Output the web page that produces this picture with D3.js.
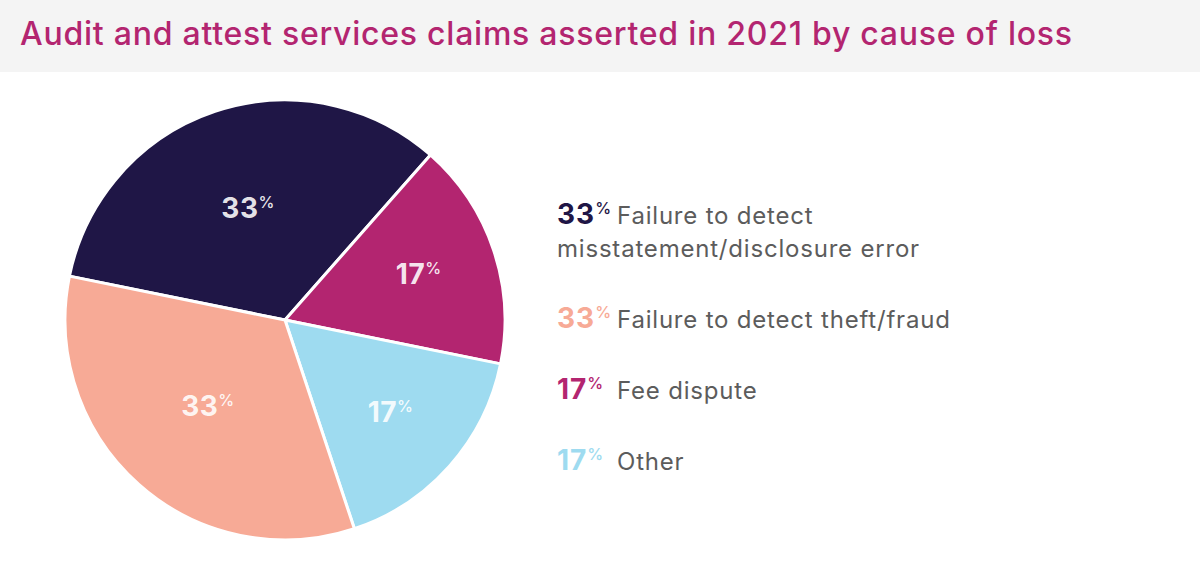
<!DOCTYPE html>
<html>
<head>
<meta charset="utf-8">
<script src="https://cdn.jsdelivr.net/npm/d3@7"></script>
<style>
  html, body { margin: 0; padding: 0; background: #fff; }
  svg { display: block; }
</style>
</head>
<body>
<svg id="chart" width="1200" height="566"></svg>
<script>
// ---- data ----
const title = "Audit and attest services claims asserted in 2021 by cause of loss";
const categories = ["Failure to detect misstatement/disclosure error", "Fee dispute", "Other", "Failure to detect theft/fraud"];
const values = [33.3, 16.7, 16.7, 33.3];
const colors = ["#1f1646", "#b32570", "#9edbf0", "#f7aa96"];
const legendOrder = ["Failure to detect misstatement/disclosure error", "Failure to detect theft/fraud", "Fee dispute", "Other"];
const legendLines = {
  "Failure to detect misstatement/disclosure error": ["Failure to detect", "misstatement/disclosure error"],
  "Failure to detect theft/fraud": ["Failure to detect theft/fraud"],
  "Fee dispute": ["Fee dispute"],
  "Other": ["Other"]
};

const svg = d3.select("#chart");
const W = 1200, H = 566;
const FONT = "Inter, 'Open Sans', sans-serif";
const fmt = d3.format(".0f");

// title band
svg.append("rect").attr("x", 0).attr("y", 0).attr("width", W).attr("height", 72).attr("fill", "#f4f4f4");
const t = svg.append("text")
  .attr("x", 20).attr("y", 45)
  .attr("fill", "#b32570")
  .attr("font-family", FONT)
  .attr("font-weight", 500)
  .attr("font-size", 32)
  .text(title);
const tw = t.node().getComputedTextLength();
t.attr("letter-spacing", (1052 - tw) / (title.length - 1));

// pie
const cx = 285, cy = 320, R = 220;
const data = categories.map((c, i) => ({ cat: c, value: values[i], color: colors[i] }));
const startA = -78.5 * Math.PI / 180;
const pie = d3.pie().value(d => d.value).sort(null)
  .startAngle(startA).endAngle(startA + 2 * Math.PI);
const arcs = pie(data);
const arc = d3.arc().innerRadius(0).outerRadius(R);

const g = svg.append("g").attr("transform", `translate(${cx},${cy})`);
g.selectAll("path.slice").data(arcs).join("path")
  .attr("class", "slice")
  .attr("d", arc)
  .attr("fill", d => d.data.color)
  .attr("stroke", "#fff")
  .attr("stroke-width", 3)
  .attr("stroke-linejoin", "round");

// slice labels
const lab = g.selectAll("text.lab").data(arcs).join("text")
  .attr("class", "lab")
  .attr("transform", d => {
    const r = d.data.value < 25 ? R * 0.64 : R * 0.53;
    const a = (d.startAngle + d.endAngle) / 2;
    return `translate(${Math.sin(a) * r},${-Math.cos(a) * r + 9})`;
  })
  .attr("text-anchor", "middle")
  .attr("font-family", FONT)
  .attr("fill", "#fff")
  .attr("fill-opacity", 0.9);
lab.append("tspan").attr("font-size", 28).attr("font-weight", 700).attr("letter-spacing", 0.5).text(d => fmt(d.data.value));
lab.append("tspan").attr("font-size", 16).attr("font-weight", 500).attr("dy", -10).text("%");

// legend
const legX = 557, textX = 617;
const rowY = [224, 328, 399, 470];
legendOrder.forEach((cat, i) => {
  const d = data.find(x => x.cat === cat);
  const y = rowY[i];
  const num = svg.append("text").attr("x", legX).attr("y", y)
    .attr("font-family", FONT).attr("fill", d.color);
  num.append("tspan").attr("font-size", 28).attr("font-weight", 700).attr("letter-spacing", 1).text(fmt(d.value));
  num.append("tspan").attr("font-size", 16).attr("font-weight", 500).attr("dy", -10).text("%");
  legendLines[cat].forEach((line, j) => {
    svg.append("text")
      .attr("x", j === 0 ? textX : legX)
      .attr("y", y + j * 33)
      .attr("font-family", FONT)
      .attr("font-size", 24)
      .attr("letter-spacing", 0.8)
      .attr("fill", "#5c5c5c")
      .text(line);
  });
});
</script>
</body>
</html>
